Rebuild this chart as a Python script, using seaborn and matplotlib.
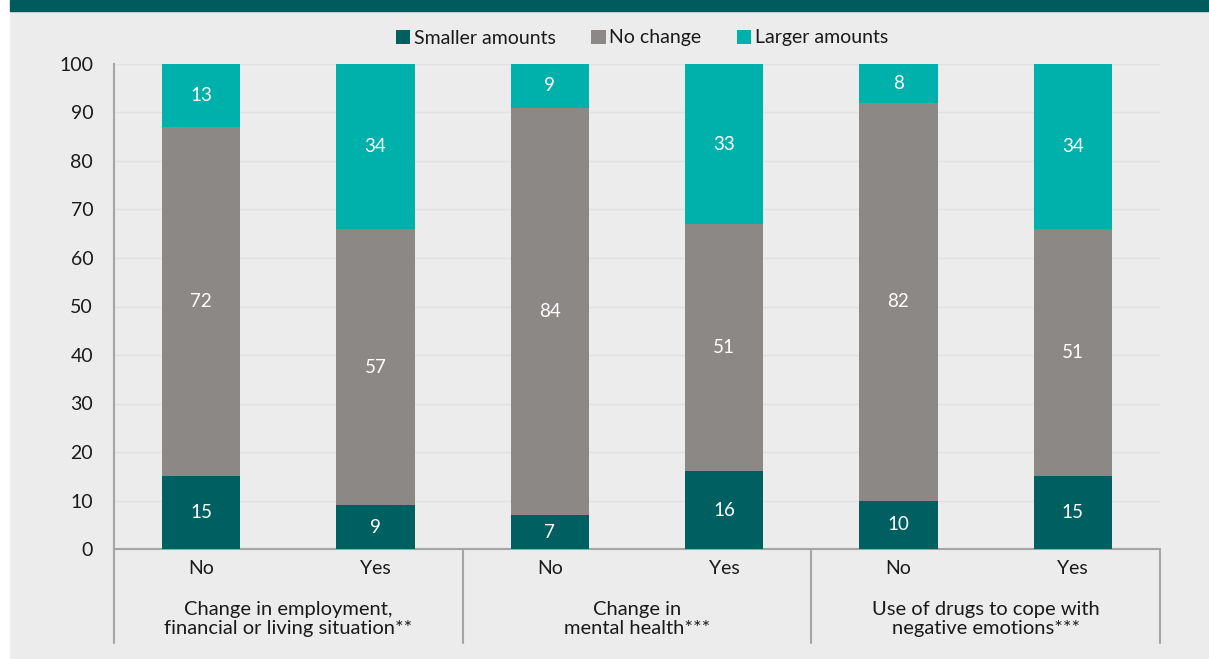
import matplotlib
matplotlib.use("Agg")
import matplotlib.pyplot as plt
import matplotlib.transforms as mtransforms
from matplotlib.patches import Rectangle, Patch
import seaborn as sns
import pandas as pd
import numpy as np

# ---- data ----
groups = ["Change in employment,\nfinancial or living situation**",
          "Change in\nmental health***",
          "Use of drugs to cope with\nnegative emotions***"]
answers = ["No", "Yes"]
series = ["Smaller amounts", "No change", "Larger amounts"]
smaller = [15, 9, 7, 16, 10, 15]
no_change = [72, 57, 84, 51, 82, 51]
larger = [13, 34, 9, 33, 8, 34]
colors = ["#005F61", "#8C8886", "#00B0AA"]

bars = [f"{g}|{a}" for g in range(len(groups)) for a in answers]
df = pd.DataFrame({"bar": bars, "Smaller amounts": smaller,
                   "No change": no_change, "Larger amounts": larger})
df["cum1"] = df["Smaller amounts"]
df["cum2"] = df["cum1"] + df["No change"]
df["cum3"] = df["cum2"] + df["Larger amounts"]

sns.set_theme(style="white")
plt.rcParams["font.family"] = ["Lato", "DejaVu Sans"]
txt = "#1A1A1A"
bg = "#EBECEB"

fig = plt.figure(figsize=(12.09, 6.59), dpi=100, facecolor="white")
# panel background + banner
fig.patches.append(Rectangle((10 / 1209, 0), 1 - 10 / 1209, 1 - 11 / 659,
                             transform=fig.transFigure, color=bg, zorder=-10))
fig.patches.append(Rectangle((10 / 1209, 1 - 11 / 659), 1 - 10 / 1209, 11 / 659,
                             transform=fig.transFigure, color="#005A5E", zorder=-10))

ax = fig.add_axes([114 / 1209, 1 - 549 / 659, (1160 - 114) / 1209, (549 - 64) / 659])
ax.set_facecolor(bg)

for col, c in zip(["cum3", "cum2", "cum1"], colors[::-1]):
    sns.barplot(data=df, x="bar", y=col, order=bars, color=c, width=0.45,
                saturation=1, ax=ax, zorder=3, linewidth=0)

# value labels
for i, row in df.iterrows():
    bottoms = [0, row["cum1"], row["cum2"]]
    for s, b in zip(series, bottoms):
        v = row[s]
        ax.text(i, b + v / 2, f"{v}", ha="center", va="center", color="white",
                fontsize=13.5, zorder=5)

ax.set_xlim(-0.5, len(bars) - 0.5)
ax.set_ylim(0, 100)
ax.set_yticks(np.arange(0, 101, 10))
ax.yaxis.grid(True, color="#E0E1E0", lw=1, zorder=0)
ax.xaxis.grid(False)
ax.set_xticks(range(len(bars)))
ax.set_xticklabels([b.split("|")[1] for b in bars])
ax.tick_params(axis="x", length=0, pad=8, labelsize=14, labelcolor=txt)
ax.tick_params(axis="y", length=0, pad=15, labelsize=14, labelcolor=txt)
ax.set_xlabel("")
ax.set_ylabel("")
for sp in ["top", "right"]:
    ax.spines[sp].set_visible(False)
for sp in ["left", "bottom"]:
    ax.spines[sp].set_color("#A5A5A5")
    ax.spines[sp].set_linewidth(1.5)

trans = mtransforms.blended_transform_factory(ax.transData, ax.transAxes)
for xs in [-0.5, 1.5, 3.5, 5.5]:
    ax.plot([xs, xs], [0, -94 / 485], transform=trans, color="#A5A5A5", lw=1.5,
            clip_on=False, zorder=4)
for gi, g in enumerate(groups):
    ax.text(gi * 2 + 0.5, -70 / 485, g, transform=trans, ha="center", va="center",
            fontsize=14.5, color=txt, linespacing=1.2)

handles = [Patch(facecolor=c, edgecolor="none") for c in colors]
fig.legend(handles, series, loc="center", bbox_to_anchor=(642 / 1209, 1 - 38 / 659),
           ncol=3, frameon=False, fontsize=14, handlelength=0.75, handleheight=0.75,
           handletextpad=0.2, columnspacing=1.8, labelcolor=txt)

fig.savefig("out.png", dpi=100, facecolor="white")
